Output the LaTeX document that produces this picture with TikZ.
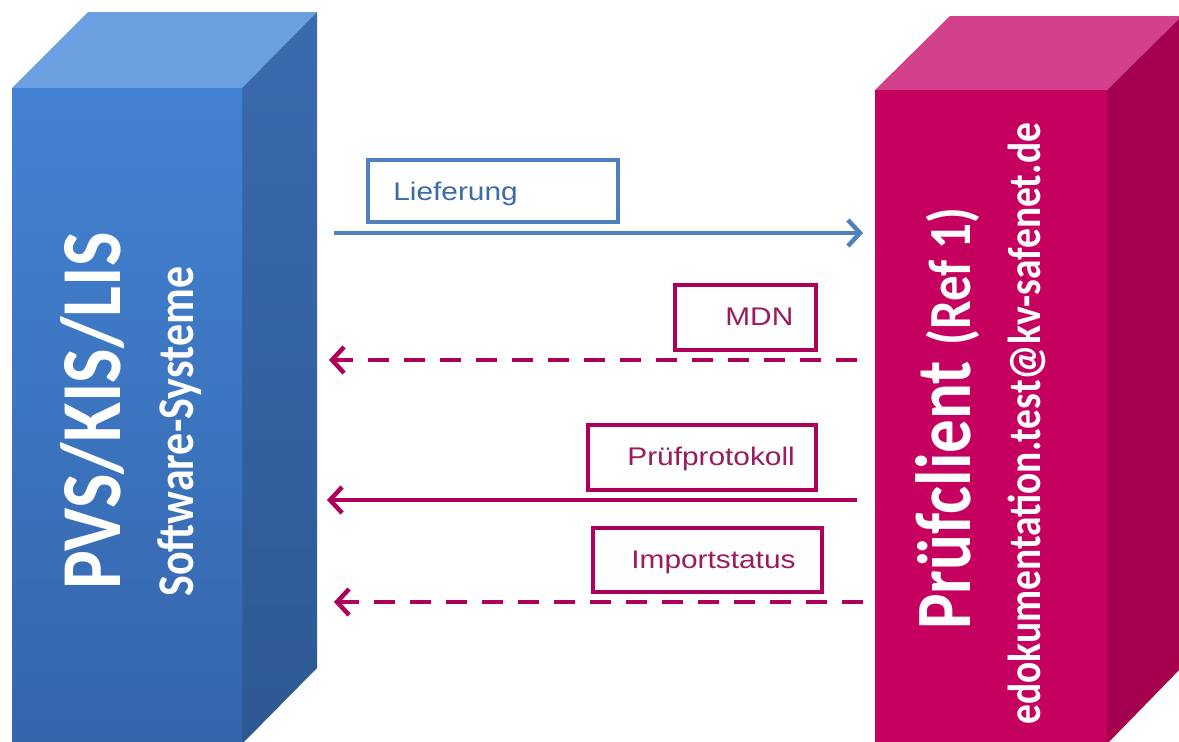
\documentclass[tikz,border=0pt]{standalone}
\usepackage{fontspec}
\setmainfont{Liberation Sans}
\newfontfamily\calibri{Carlito}
\usepackage{tikz}
\usetikzlibrary{arrows.meta}
\definecolor{pvstop}{HTML}{6B9FDF}
\definecolor{pvsfront}{HTML}{4383D3}
\definecolor{pvsfrontdark}{HTML}{3565AB}
\definecolor{pvsside}{HTML}{3A6BAF}
\definecolor{pvssidedark}{HTML}{2D5893}
\definecolor{prtop}{HTML}{D3408C}
\definecolor{prfront}{HTML}{C5005F}
\definecolor{prside}{HTML}{A4004F}
\definecolor{flowblue}{HTML}{4F81BD}
\definecolor{flowbluetext}{HTML}{3A6CA6}
\definecolor{flowmag}{HTML}{AE005B}
\definecolor{flowmagtext}{HTML}{981C5E}

\begin{document}
\begin{tikzpicture}[x=1pt,y=-1pt,>={Straight Barb[length=12pt,width=26pt]},semithick]
\tikzstyle{boxtext}=[text=white,inner sep=0pt,xscale=1.17,rotate=90,anchor=base west]
\tikzstyle{labelbox}=[shape=rectangle,draw,line width=3.5pt,fill=white,inner sep=0pt]
\tikzstyle{labeltext}=[inner sep=0pt,anchor=base west,xscale=1.17,font=\fontsize{25.5}{25.5}\selectfont]
\tikzstyle{blueflow}=[->,draw=flowblue,line width=4.5pt]
\tikzstyle{magflow}=[->,draw=flowmag,line width=4.5pt]
\tikzstyle{magdash}=[magflow,dash pattern=on 21pt off 15pt]
\useasboundingbox (0,0) rectangle (1179,742);
\clip (0,0) rectangle (1179,742);
\fill[pvstop] (12,88) -- (88,12) -- (317,12) -- (242,88) -- cycle;
\shade[top color=pvsside,bottom color=pvssidedark] (242,88) -- (317,12) -- (317,668) -- (242,744) -- cycle;
\shade[top color=pvsfront,bottom color=pvsfrontdark] (12,88) rectangle (242,744);
\fill[prtop] (875,90) -- (950,16) -- (1182,16) -- (1107,90) -- cycle;
\fill[prside] (1107,90) -- (1182,16) -- (1182,667) -- (1107,744) -- cycle;
\fill[prfront] (875,90) rectangle (1107,744);
\node[boxtext] (pvs) at (120,590) {\calibri\bfseries\fontsize{73}{73}\selectfont PVS/KIS/LIS};
\node[boxtext] (software) at (193,597) {\calibri\bfseries\fontsize{44}{44}\selectfont Software-Systeme};
\node[boxtext] (pruefclient) at (970,630) {\calibri\bfseries\fontsize{67}{67}\selectfont Prüfclient {\fontsize{51}{51}\selectfont (Ref 1)}};
\node[boxtext] (email) at (1040,725) {\calibri\bfseries\fontsize{39.5}{39.5}\selectfont edokumentation.test@kv-safenet.de};
\node[labelbox,draw=flowblue,minimum width=250pt,minimum height=62pt] (liefbox) at (493,191) {};
\node[labeltext,text=flowbluetext] (lieftext) at (393,200) {Lieferung};
\node[labelbox,draw=flowmag,minimum width=141pt,minimum height=65pt] (mdnbox) at (745.5,317.5) {};
\node[labeltext,text=flowmagtext] (mdntext) at (725,325) {MDN};
\node[labelbox,draw=flowmag,minimum width=228pt,minimum height=65pt] (protbox) at (702,457.5) {};
\node[labeltext,text=flowmagtext] (prottext) at (627,465) {Prüfprotokoll};
\node[labelbox,draw=flowmag,minimum width=229pt,minimum height=64pt] (impbox) at (707.5,560) {};
\node[labeltext,text=flowmagtext] (imptext) at (631,568) {Importstatus};
\coordinate (lief-a) at (334,233);
\coordinate (lief-b) at (863,233);
\coordinate (mdn-a) at (857,360);
\coordinate (mdn-b) at (329,360);
\coordinate (prot-a) at (857,500);
\coordinate (prot-b) at (327,500);
\coordinate (imp-a) at (863,602);
\coordinate (imp-b) at (334,602);
\path (lief-a) edge[blueflow] (lief-b)
	(mdn-a) edge[magdash] (mdn-b)
	(prot-a) edge[magflow] (prot-b)
	(imp-a) edge[magdash] (imp-b);
\end{tikzpicture}
\end{document}
